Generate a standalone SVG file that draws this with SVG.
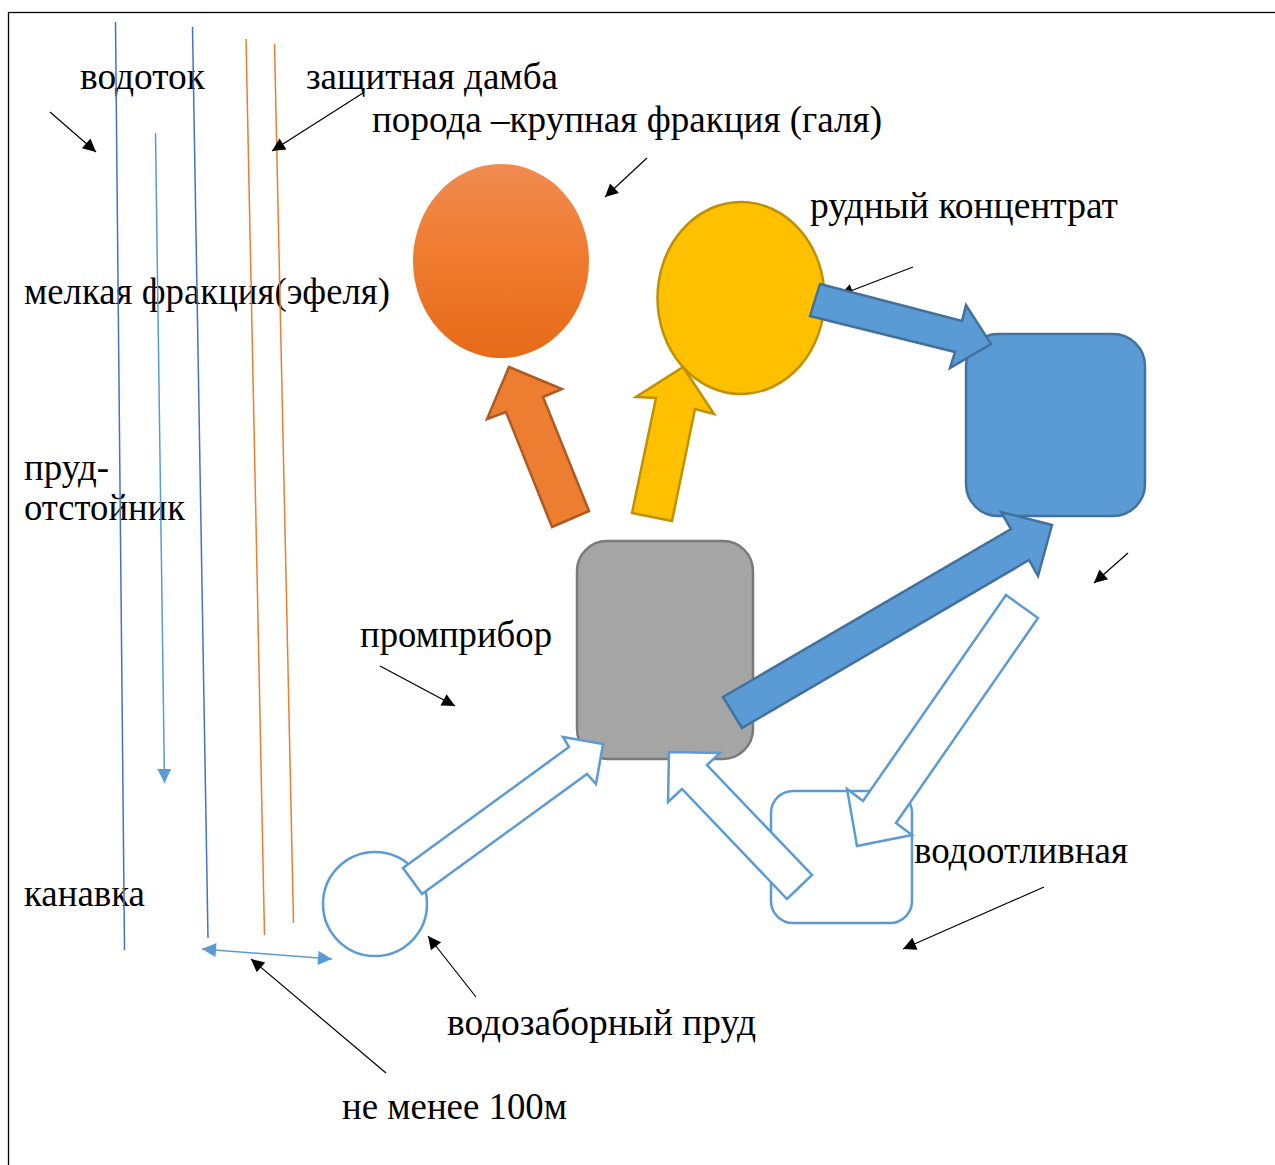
<svg xmlns="http://www.w3.org/2000/svg" width="1275" height="1165" viewBox="0 0 1275 1165">
<style>
.t{font-family:"Liberation Serif","Times New Roman",serif;font-size:38px;fill:#000}
.ptr{stroke:#000;stroke-width:1.2;fill:none;marker-end:url(#ah)}
.dk{stroke:#4472C4;stroke-width:1.5;fill:none}
.or{stroke:#ED7D31;stroke-width:1.5;fill:none}
.lb{stroke:#5B9BD5;stroke-width:1.5;fill:none}
.hol{fill:#fff;stroke:#5B9BD5;stroke-width:2.5;stroke-linejoin:miter}
.blu{fill:#5B9BD5;stroke:#41719C;stroke-width:2.5}
</style>
<defs>
<marker id="ah" viewBox="0 0 10 10" refX="10" refY="5" markerWidth="17" markerHeight="13" markerUnits="userSpaceOnUse" orient="auto"><path d="M0,0 L10,5 L0,10 z" fill="#000"/></marker>
<marker id="bh" viewBox="0 0 10 10" refX="10" refY="5" markerWidth="15" markerHeight="14" markerUnits="userSpaceOnUse" orient="auto"><path d="M0,0 L10,5 L0,10 z" fill="#5B9BD5"/></marker>
<marker id="bs" viewBox="0 0 10 10" refX="0" refY="5" markerWidth="15" markerHeight="14" markerUnits="userSpaceOnUse" orient="auto"><path d="M10,0 L0,5 L10,10 z" fill="#5B9BD5"/></marker>
<linearGradient id="og" x1="0" y1="0" x2="0" y2="1"><stop offset="0" stop-color="#F08B50"/><stop offset="0.5" stop-color="#EF7A2D"/><stop offset="1" stop-color="#E56B18"/></linearGradient>
</defs>
<rect x="8.5" y="12.5" width="1300" height="1200" fill="#fff" stroke="#000" stroke-width="1.3"/>

<g id="labels">
<text class="t" x="80" y="89" textLength="125" lengthAdjust="spacingAndGlyphs">водоток</text>
<text class="t" x="306" y="89" textLength="252" lengthAdjust="spacingAndGlyphs">защитная дамба</text>
<text class="t" x="372" y="132" textLength="510" lengthAdjust="spacingAndGlyphs">порода –крупная фракция (галя)</text>
<text class="t" x="810" y="218" textLength="308" lengthAdjust="spacingAndGlyphs">рудный концентрат</text>
<text class="t" x="24" y="304" textLength="366" lengthAdjust="spacingAndGlyphs">мелкая фракция(эфеля)</text>
<text class="t" x="24" y="480" textLength="85" lengthAdjust="spacingAndGlyphs">пруд-</text>
<text class="t" x="24" y="520" textLength="161" lengthAdjust="spacingAndGlyphs">отстойник</text>
<text class="t" x="360" y="647" textLength="192" lengthAdjust="spacingAndGlyphs">промприбор</text>
<text class="t" x="914" y="863" textLength="214" lengthAdjust="spacingAndGlyphs">водоотливная</text>
<text class="t" x="24" y="906" textLength="121" lengthAdjust="spacingAndGlyphs">канавка</text>
<text class="t" x="447" y="1035" textLength="309" lengthAdjust="spacingAndGlyphs">водозаборный пруд</text>
<text class="t" x="342" y="1119" textLength="225" lengthAdjust="spacingAndGlyphs">не менее 100м</text>
</g>

<g id="river-lines">
<line class="dk" x1="115.5" y1="22" x2="124.5" y2="950"/>
<line class="dk" x1="192.5" y1="27" x2="208" y2="938"/>
<line class="or" x1="246" y1="39" x2="264.5" y2="935"/>
<line class="or" x1="274.5" y1="44" x2="293.5" y2="923"/>
<line class="lb" x1="155.5" y1="133" x2="164.5" y2="783" marker-end="url(#bh)"/>
</g>

<g id="node-pond">
<circle cx="375" cy="904" r="52" fill="#fff" stroke="#5B9BD5" stroke-width="2.5"/>
</g>
<g id="node-pump">
<rect x="771" y="791" width="141" height="132" rx="22" fill="#fff" stroke="#5B9BD5" stroke-width="2.5"/>
</g>
<g id="node-rock">
<ellipse cx="501" cy="261" rx="88" ry="97" fill="url(#og)"/>
</g>
<g id="node-ore">
<ellipse cx="741" cy="298" rx="83.5" ry="96" fill="#FFC000" stroke="#BF9000" stroke-width="2.5"/>
</g>
<g id="node-concentrate">
<rect x="966" y="334" width="179" height="182" rx="32" fill="#5B9BD5" stroke="#41719C" stroke-width="2.5"/>
</g>
<g id="node-plant">
<rect x="577" y="541" width="176" height="218" rx="30" fill="#A5A5A5" stroke="#7A7A7A" stroke-width="2.5"/>
</g>

<g id="connectors">
<line class="ptr" x1="50" y1="112" x2="96" y2="152"/>
<line class="ptr" x1="363" y1="93" x2="272" y2="151"/>
<line class="ptr" x1="647" y1="158" x2="605" y2="197"/>
<line class="ptr" x1="913" y1="267" x2="840" y2="295"/>
<line class="ptr" x1="1128" y1="553" x2="1094" y2="583"/>
<line class="ptr" x1="380" y1="666" x2="455" y2="706"/>
<line class="ptr" x1="1044" y1="887" x2="903" y2="949"/>
<line class="ptr" x1="476" y1="997" x2="428" y2="936"/>
<line class="ptr" x1="386" y1="1073" x2="251" y2="959"/>
<line class="lb" x1="202" y1="949" x2="332" y2="959" marker-start="url(#bs)" marker-end="url(#bh)"/>

<polygon points="509,367 562,389 543,397 589,511 552,527 506,412 487,419" fill="#ED7D31" stroke="#AE5A21" stroke-width="2.5"/>
<polygon points="683,367 714,414 695,409 672,521 632,513 656,398 636,397" fill="#FFC000" stroke="#BF9000" stroke-width="2.5"/>
<polygon class="blu" points="820,284 962,321 966,305 991,344 950,368 955,352 810,316"/>
<polygon class="blu" points="723,697 1011,529 1001,512 1052,525 1038,576 1029,560 742,728"/>
<polygon class="hol" points="403,868 569,747 563,737 603,744 596,784 587,774 422,894"/>
<polygon class="hol" points="669,752 720,753 707,765 812,875 787,899 682,789 668,802"/>
<polygon class="hol" points="1006,595 863,801 847,789 857,846 912,835 896,823 1038,618"/>
</g>
</svg>
